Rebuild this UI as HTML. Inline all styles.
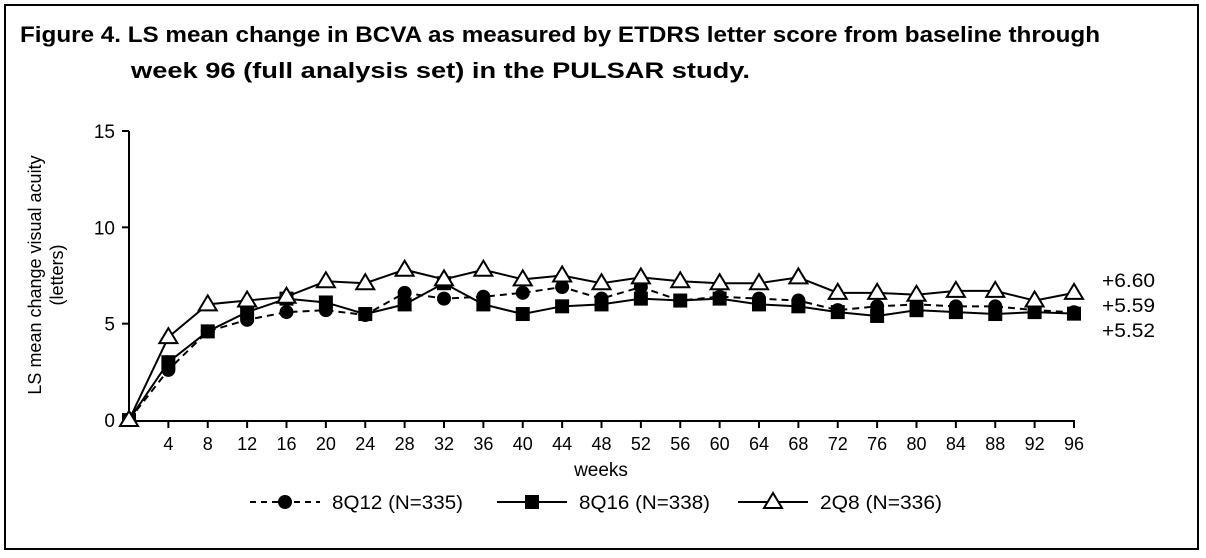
<!DOCTYPE html>
<html><head><meta charset="utf-8"><style>
body{margin:0;background:#fff;font-family:"Liberation Sans",Arial,sans-serif}
#frame{position:absolute;left:4px;top:4px;width:1195px;height:546px;border:2px solid #000;box-sizing:border-box}
</style></head><body>
<div id="frame"></div>
<svg width="1206" height="558" style="position:absolute;left:0;top:0" font-family="Liberation Sans, Arial, sans-serif">
<text x="20" y="42" font-size="22" font-weight="bold" textLength="1080" lengthAdjust="spacingAndGlyphs">Figure 4. LS mean change in BCVA as measured by ETDRS letter score from baseline through</text>
<text x="131" y="78" font-size="22" font-weight="bold" textLength="619" lengthAdjust="spacingAndGlyphs">week 96 (full analysis set) in the PULSAR study.</text>
<g id="axes"></g><g id="plot"></g><g id="legend"></g>
</svg>
<script>
const weeks=[0,4,8,12,16,20,24,28,32,36,40,44,48,52,56,60,64,68,72,76,80,84,88,92,96];
const s8q12=[0,2.6,4.6,5.2,5.6,5.7,5.45,6.6,6.3,6.4,6.6,6.9,6.3,6.9,6.2,6.4,6.3,6.2,5.7,5.9,6.0,5.9,5.9,5.7,5.59];
const s8q16=[0,3.0,4.6,5.6,6.3,6.1,5.5,6.0,7.1,6.0,5.5,5.9,6.0,6.3,6.2,6.3,6.0,5.9,5.6,5.4,5.7,5.6,5.5,5.6,5.52];
const s2q8=[0,4.3,6.0,6.2,6.4,7.2,7.1,7.8,7.3,7.8,7.3,7.5,7.1,7.4,7.2,7.1,7.1,7.4,6.6,6.6,6.5,6.7,6.7,6.2,6.6];
const yTicks=[0,5,10,15];
const endLabels=["+6.60","+5.59","+5.52"];
const NS="http://www.w3.org/2000/svg";
const X=w=>129+w*(1074-129)/96;
const Y=v=>420-v*(420-131)/15;
function mk(t,a,p){const e=document.createElementNS(NS,t);for(const k in a)e.setAttribute(k,a[k]);p.appendChild(e);return e;}
const ax=document.getElementById('axes'),pl=document.getElementById('plot'),lg=document.getElementById('legend');
const yl=mk('line',{x1:129,y1:131,x2:129,y2:421,stroke:'#000','stroke-width':2},ax);


const xl=mk('line',{x1:128,y1:421,x2:1075,y2:421,stroke:'#000','stroke-width':2},ax);


yTicks.forEach(v=>{mk('line',{x1:122,y1:Y(v),x2:129,y2:Y(v),stroke:'#000','stroke-width':2},ax);
const t=mk('text',{x:115,y:Y(v)+7,'font-size':19,'text-anchor':'end'},ax);t.textContent=v;

});
weeks.forEach(w=>{if(w===0)return;mk('line',{x1:X(w),y1:421,x2:X(w),y2:428,stroke:'#000','stroke-width':2},ax);
const t=mk('text',{x:X(w),y:450,'font-size':18,'text-anchor':'middle'},ax);t.textContent=w;

});
const xt=mk('text',{x:601,y:476,'font-size':19,'text-anchor':'middle'},ax);xt.textContent='weeks';


const yt=mk('text',{transform:'translate(47,275) rotate(-90)','font-size':18,'text-anchor':'middle'},ax);


mk('tspan',{x:0,dy:-6},yt).textContent='LS mean change visual acuity';
mk('tspan',{x:0,dy:22},yt).textContent='(letters)';
function marker(type,x,y,p){
 if(type==='c')return mk('circle',{cx:x,cy:y,r:7,fill:'#000'},p);
 if(type==='s')return mk('rect',{x:x-7,y:y-7,width:14,height:14,fill:'#000'},p);
 return mk('polygon',{points:`${x},${y-9} ${x-9},${y+6} ${x+9},${y+6}`,fill:'#fff',stroke:'#000','stroke-width':2},p);
}
function series(vals,type,dash,name){
 const g=mk('g',{},pl);
 
 
 mk('polyline',{points:weeks.map((w,i)=>X(w)+','+Y(vals[i])).join(' '),fill:'none',stroke:'#000','stroke-width':2,'stroke-dasharray':dash},g);
 weeks.forEach((w,i)=>{const m=marker(type,X(w),Y(vals[i]),g);
 
 });
}
series(s8q16,'s','none','series-8q16');
series(s8q12,'c','7,5','series-8q12');
series(s2q8,'t','none','series-2q8');
endLabels.forEach((s,i)=>{const t=mk('text',{x:1102,y:287+i*25,'font-size':19,textLength:53,lengthAdjust:'spacingAndGlyphs'},pl);t.textContent=s;

});
const leg=[['c','6,5','8Q12 (N=335)',250],['s','none','8Q16 (N=338)',497],['t','none','2Q8 (N=336)',738]];
leg.forEach(([t,d,l,x0])=>{const g=mk('g',{},lg);


mk('line',{x1:x0,y1:502,x2:x0+70,y2:502,stroke:'#000','stroke-width':2,'stroke-dasharray':d},g);
marker(t,x0+35,502,g);
const tx=mk('text',{x:x0+82,y:509,'font-size':19,textLength:(l.length===12?131:122),lengthAdjust:'spacingAndGlyphs'},g);tx.textContent=l;});
</script>
</body></html>
